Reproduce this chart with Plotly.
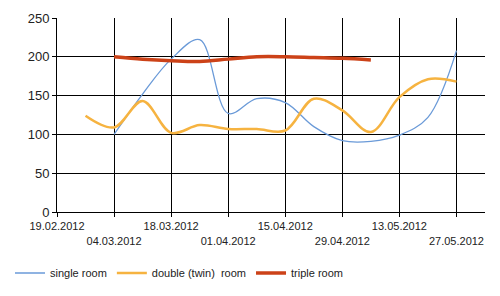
import plotly.graph_objects as go

dates = ["2012-03-04", "2012-03-11", "2012-03-18", "2012-03-25", "2012-04-01", "2012-04-08",
         "2012-04-15", "2012-04-22", "2012-04-29", "2012-05-06", "2012-05-13", "2012-05-20", "2012-05-27"]
single = [100, 152, 197, 222, 127, 146, 141, 110, 92, 91, 99, 122, 208]

dates_double = ["2012-02-26"] + dates
double = [124, 109, 143, 102, 112, 107, 107, 105, 146, 131, 103, 148, 171, 168]

dates_triple = dates[:10]
triple = [200, 197, 195, 194, 197, 200, 200, 199, 198, 196]

tick_dates = ["2012-02-19", "2012-03-04", "2012-03-18", "2012-04-01", "2012-04-15",
              "2012-04-29", "2012-05-13", "2012-05-27"]
tick_labels = ["19.02.2012", "04.03.2012", "18.03.2012", "01.04.2012", "15.04.2012",
               "29.04.2012", "13.05.2012", "27.05.2012"]
tick_text = [t if i % 2 == 0 else "<br>" + t for i, t in enumerate(tick_labels)]

names = ["single room", "double (twin)  room", "triple room"]

fig = go.Figure()
fig.add_trace(go.Scatter(x=dates, y=single, name=names[0], mode="lines",
                         line=dict(color="#6a9ad8", width=1.3, shape="spline", smoothing=1)))
fig.add_trace(go.Scatter(x=dates_double, y=double, name=names[1], mode="lines",
                         line=dict(color="#f6b340", width=2.5, shape="spline", smoothing=1)))
fig.add_trace(go.Scatter(x=dates_triple, y=triple, name=names[2], mode="lines",
                         line=dict(color="#cc4218", width=3.5, shape="spline", smoothing=1)))

fig.update_layout(
    width=500, height=296,
    margin=dict(l=57, r=15, t=18, b=84, autoexpand=False),
    paper_bgcolor="white", plot_bgcolor="white",
    font=dict(family="Arial, Liberation Sans, sans-serif", color="#222222"),
    showlegend=True,
    legend=dict(orientation="h", xref="container", yref="container",
                x=0.02, y=1 - 273 / 296, xanchor="left", yanchor="middle",
                font=dict(size=11), itemwidth=30),
    xaxis=dict(type="date", range=["2012-02-19", "2012-06-03"],
               tickvals=tick_dates, ticktext=tick_text, automargin=False,
               showgrid=True, gridcolor="black", gridwidth=1,
               ticks="outside", ticklen=4, tickcolor="black",
               showline=True, linecolor="black", zeroline=False,
               tickfont=dict(size=11), tickangle=0),
    yaxis=dict(range=[0, 250], tickvals=[0, 50, 100, 150, 200, 250], automargin=False,
               showgrid=True, gridcolor="black", gridwidth=1,
               ticks="outside", ticklen=4, tickcolor="black",
               showline=True, linecolor="black", zeroline=False,
               tickfont=dict(size=13)),
)

fig.write_html("out.html")
